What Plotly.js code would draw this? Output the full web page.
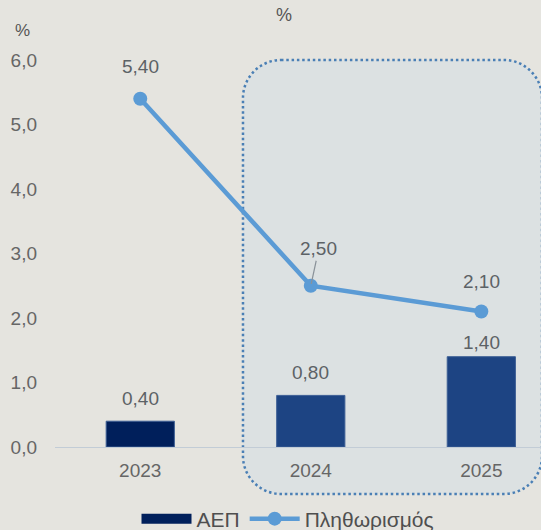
<!DOCTYPE html>
<html>
<head>
<meta charset="utf-8">
<script src="https://cdn.plot.ly/plotly-3.0.1.min.js"></script>
<style>html,body{margin:0;padding:0;background:#e5e4df;}</style>
</head>
<body>
<div id="chart" style="width:541px;height:530px;"></div>
<script>
// ---- data ----
const years = ['2023', '2024', '2025'];
const gdp = [0.40, 0.80, 1.40];
const inflation = [5.40, 2.50, 2.10];
const gdpName = 'ΑΕΠ';
const inflName = 'Πληθωρισμός';
const yTicks = [0, 1, 2, 3, 4, 5, 6];

// ---- styling ----
const W = 541, H = 530;
const L = 55, R = 0, T = 60, B = 83;
const plotW = W - L - R, plotH = H - T - B;
const fmt = v => v.toFixed(2).replace('.', ',');
const px2x = p => (p - L) / plotW;
const px2y = p => (H - B - p) / plotH;

const gdpDark = '#001f5b';
const barColors = [gdpDark, '#1d4483', '#1d4483'];
const labelFont = {family: 'Liberation Sans, Arial, sans-serif', size: 19, color: '#5c6266'};

const traces = [
  {
    type: 'bar', x: years, y: gdp, name: gdpName, legendgroup: 'gdp', showlegend: false,
    marker: {color: barColors, line: {color: '#3d5f95', width: 1}},
    width: 0.4, hoverinfo: 'skip'
  },
  {
    // legend swatch for the bars (wide rectangle, as in the reference)
    type: 'scatter', mode: 'lines', x: [null], y: [null], name: gdpName, legendgroup: 'gdp',
    line: {color: gdpDark, width: 11}, hoverinfo: 'skip'
  },
  {
    type: 'scatter', mode: 'lines+markers', x: years, y: inflation, name: inflName,
    line: {color: '#5b9bd5', width: 4.5},
    marker: {color: '#5b9bd5', size: 14},
    hoverinfo: 'skip'
  }
];

// data labels
const barShift = [23, 23, 14];
const lineShift = [32, 0, 30];
const annotations = [];
years.forEach((yr, i) => {
  annotations.push({x: i, y: gdp[i], xref: 'x', yref: 'y', text: fmt(gdp[i]),
    showarrow: false, yshift: barShift[i], font: labelFont});
  if (i === 1) {
    annotations.push({x: i, y: inflation[i], xref: 'x', yref: 'y', text: fmt(inflation[i]),
      showarrow: true, arrowhead: 0, arrowwidth: 1.2, arrowcolor: '#8a9299',
      ax: 8, ay: -37, standoff: 2, font: labelFont});
  } else {
    annotations.push({x: i, y: inflation[i], xref: 'x', yref: 'y', text: fmt(inflation[i]),
      showarrow: false, yshift: lineShift[i], font: labelFont});
  }
});
annotations.push({xref: 'paper', yref: 'paper', x: px2x(22), y: px2y(31), xanchor: 'center', yanchor: 'middle',
  text: '%', showarrow: false, font: {family: 'Liberation Sans, Arial, sans-serif', size: 17, color: '#555'}});
annotations.push({xref: 'paper', yref: 'paper', x: px2x(284), y: px2y(15), xanchor: 'center', yanchor: 'middle',
  text: '%', showarrow: false, font: {family: 'Liberation Sans, Arial, sans-serif', size: 18, color: '#555'}});

// rounded dotted box
const bx0 = 243, bx1 = 542, by0 = 60, by1 = 494, rr = 38;
const P = (x, y) => px2x(x).toFixed(4) + ',' + px2y(y).toFixed(4);
const k = 0.55 * rr;
const boxPath = 'M ' + P(bx0 + rr, by0) +
  ' L ' + P(bx1 - rr, by0) +
  ' C ' + P(bx1 - rr + k, by0) + ' ' + P(bx1, by0 + rr - k) + ' ' + P(bx1, by0 + rr) +
  ' L ' + P(bx1, by1 - rr) +
  ' C ' + P(bx1, by1 - rr + k) + ' ' + P(bx1 - rr + k, by1) + ' ' + P(bx1 - rr, by1) +
  ' L ' + P(bx0 + rr, by1) +
  ' C ' + P(bx0 + rr - k, by1) + ' ' + P(bx0, by1 - rr + k) + ' ' + P(bx0, by1 - rr) +
  ' L ' + P(bx0, by0 + rr) +
  ' C ' + P(bx0, by0 + rr - k) + ' ' + P(bx0 + rr - k, by0) + ' ' + P(bx0 + rr, by0) + ' Z';

const layout = {
  width: W, height: H,
  margin: {l: L, r: R, t: T, b: B, pad: 0, autoexpand: false},
  paper_bgcolor: '#e5e4df',
  plot_bgcolor: 'rgba(0,0,0,0)',
  font: {family: 'Liberation Sans, Arial, sans-serif', color: '#5f5f5f'},
  separators: ',.',
  showlegend: true,
  legend: {
    orientation: 'h', x: 288 / W, xref: 'container', xanchor: 'center',
    y: (H - 519) / H, yref: 'container', yanchor: 'middle',
    font: {size: 21, color: '#4f4f4f'}, itemwidth: 50, bgcolor: 'rgba(0,0,0,0)',
    traceorder: 'normal'
  },
  xaxis: {
    type: 'category', range: [-0.5, 2.35], showgrid: false, zeroline: false,
    showline: true, linecolor: '#c2ccd6', linewidth: 1,
    ticks: '', tickfont: {size: 19, color: '#666'}, ticklabelstandoff: 6, fixedrange: true
  },
  yaxis: {
    range: [0, 6], tickvals: yTicks, tickformat: '.1f', showgrid: false, zeroline: false,
    showline: false, ticks: '', tickfont: {size: 19, color: '#666'}, ticklabelstandoff: 17,
    fixedrange: true
  },
  shapes: [{
    type: 'path', xref: 'paper', yref: 'paper', path: boxPath, layer: 'below',
    fillcolor: '#dce1e2', line: {color: '#4a7fb5', width: 2.5, dash: '2.5px,2.8px'}
  }],
  annotations: annotations
};

Plotly.newPlot('chart', traces, layout, {displayModeBar: false, staticPlot: true});
</script>
</body>
</html>
